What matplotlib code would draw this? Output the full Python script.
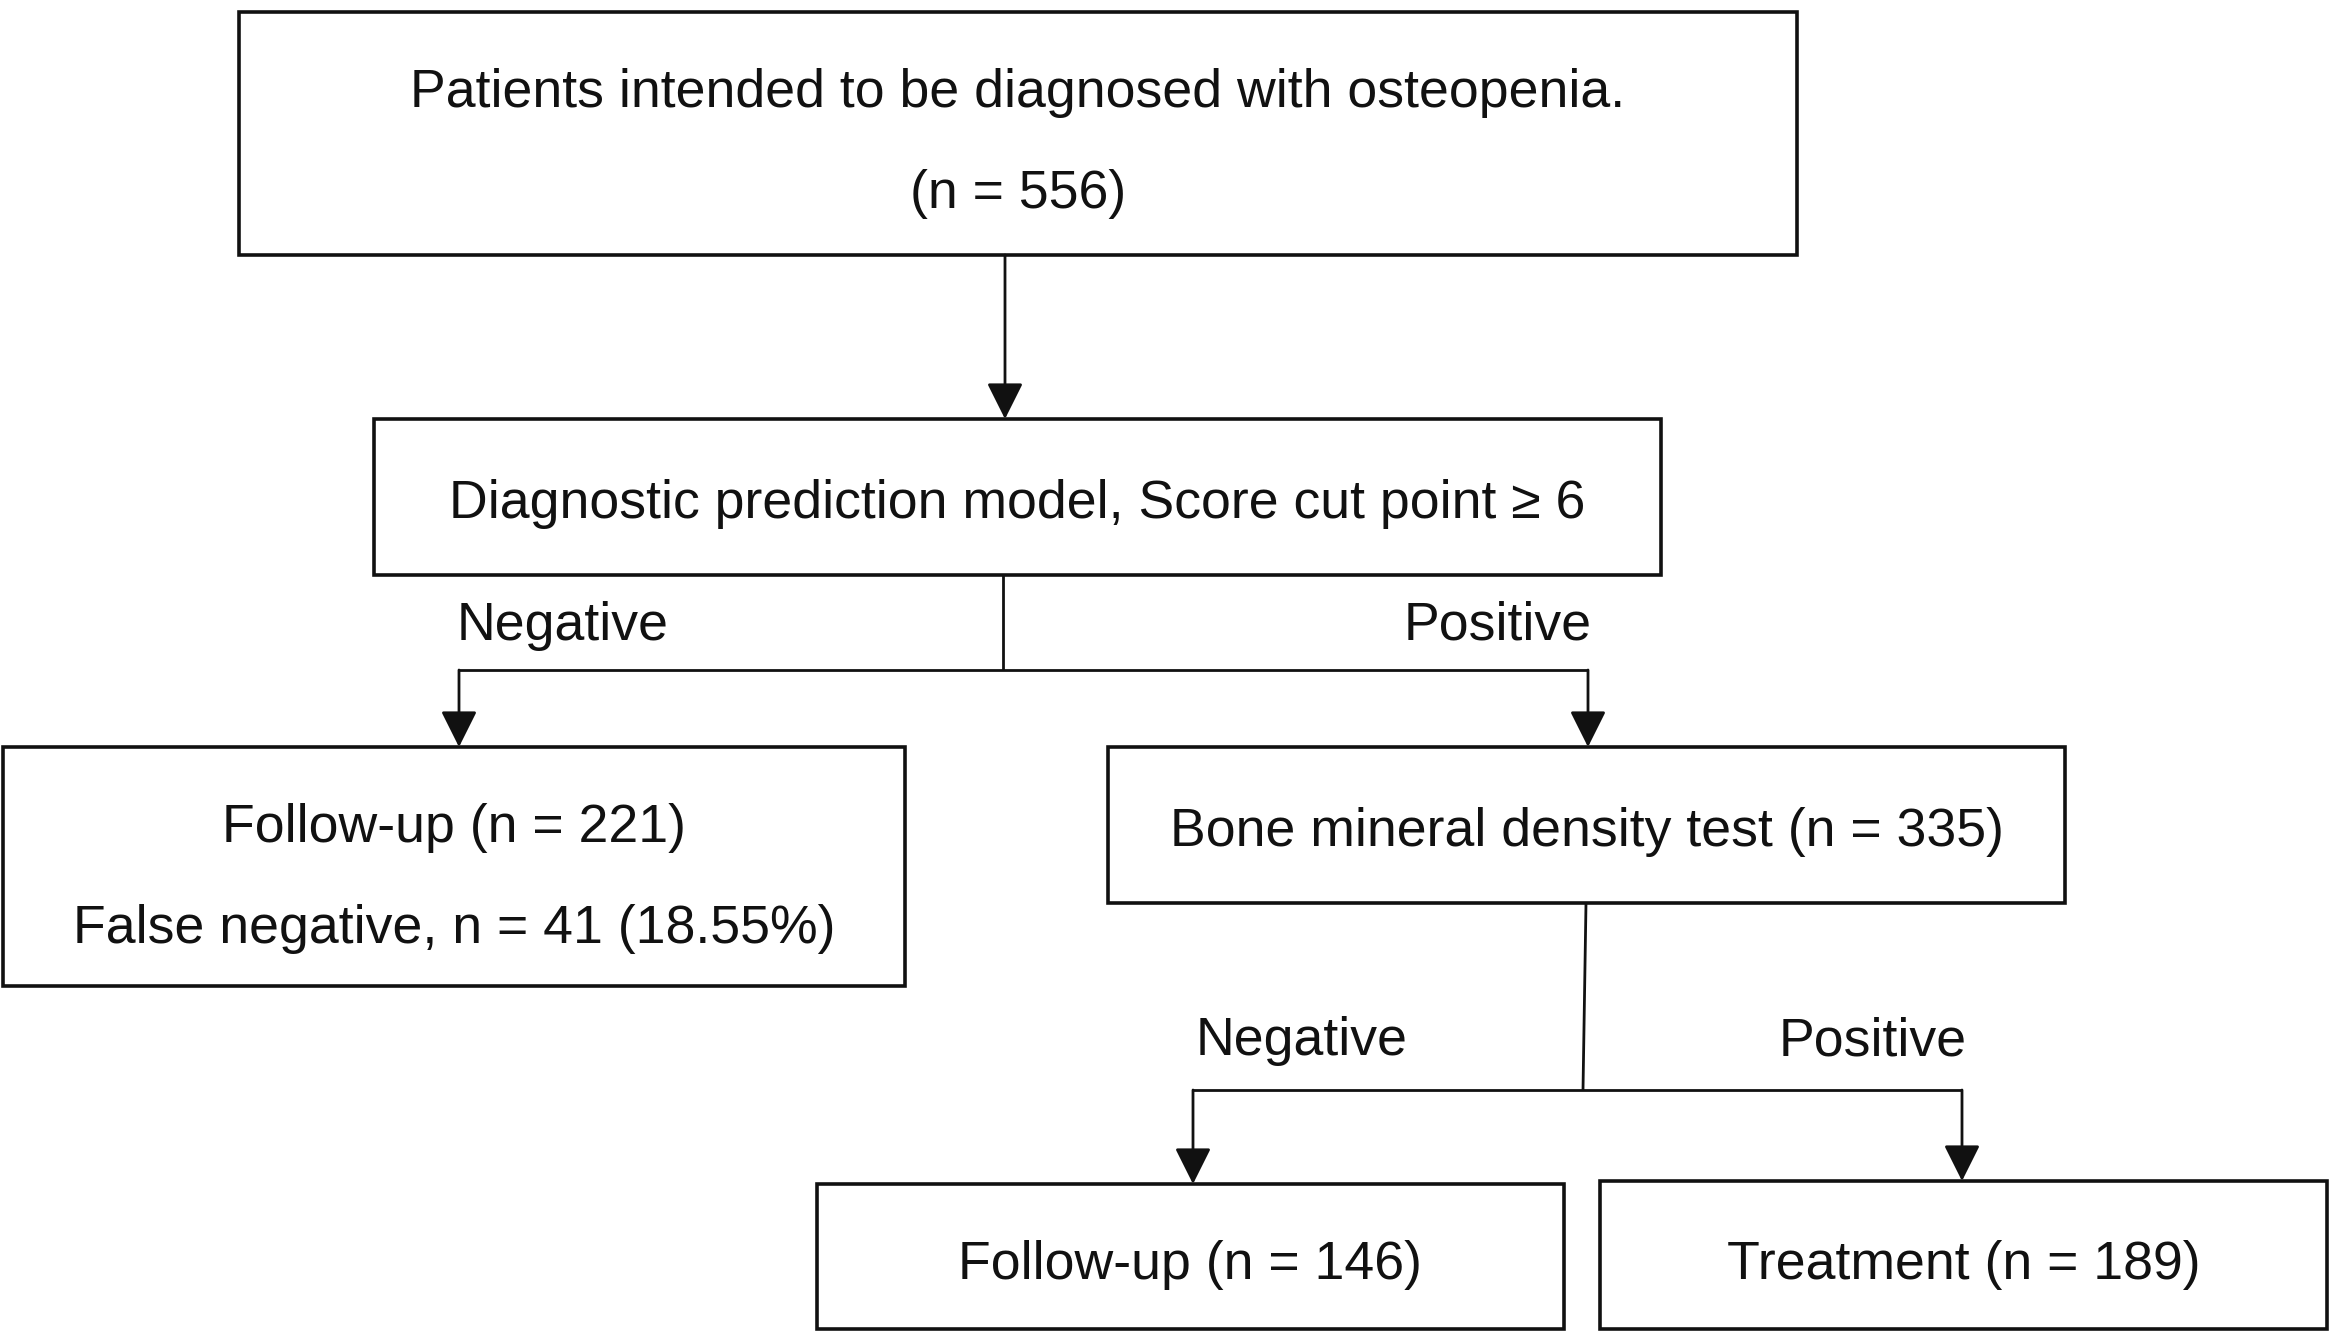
import matplotlib
matplotlib.use("Agg")
import matplotlib.pyplot as plt
from matplotlib.patches import Rectangle

W, H = 2329, 1332

# box texts
box_texts = [
    ["Patients intended to be diagnosed with osteopenia.", "(n = 556)"],
    ["Diagnostic prediction model, Score cut point \u2265 6"],
    ["Follow-up (n = 221)", "False negative, n = 41 (18.55%)"],
    ["Bone mineral density test (n = 335)"],
    ["Follow-up (n = 146)"],
    ["Treatment (n = 189)"],
]
# box geometry in pixels: x0, y0, x1, y1 (y from top)
boxes = [
    (239, 12, 1797, 255),
    (374, 419, 1661, 575),
    (3, 747, 905, 986),
    (1108, 747, 2065, 903),
    (817, 1184, 1564, 1329),
    (1600, 1181, 2327, 1329),
]
line_ys = [
    [93, 194],
    [504],
    [828, 929],
    [832],
    [1265],
    [1265],
]

fig = plt.figure(figsize=(W / 100, H / 100), dpi=100)
ax = fig.add_axes([0, 0, 1, 1])
ax.set_xlim(0, W)
ax.set_ylim(H, 0)
ax.axis("off")

fs = 38.6
font = "Liberation Sans"
ink = "#111111"

for (x0, y0, x1, y1), texts, ys in zip(boxes, box_texts, line_ys):
    ax.add_patch(Rectangle((x0, y0), x1 - x0, y1 - y0, fill=False,
                           edgecolor=ink, linewidth=2.6))
    cx = (x0 + x1) / 2
    for t, y in zip(texts, ys):
        ax.text(cx, y, t, ha="center", va="center", fontsize=fs,
                family=font, color=ink)


def line(xs, ys):
    ax.plot(xs, ys, color=ink, linewidth=2.0, solid_capstyle="butt")


def arrow(x, y0, y1):
    ax.annotate("", xy=(x, y1), xytext=(x, y0),
                arrowprops=dict(arrowstyle="-|>", color=ink, lw=2.0,
                                mutation_scale=56, shrinkA=0, shrinkB=0))


# top -> model
arrow(1005, 255, 419)

# model -> split
line([1003, 1003], [575, 670])
line([459, 1588], [670, 670])
arrow(459, 670, 747)
arrow(1588, 670, 747)
ax.text(457, 626, "Negative", ha="left", va="center", fontsize=fs, family=font, color=ink)
ax.text(1592, 626, "Positive", ha="right", va="center", fontsize=fs, family=font, color=ink)

# BMD -> split
line([1586, 1583], [903, 1090])
line([1193, 1962], [1090, 1090])
arrow(1193, 1090, 1184)
arrow(1962, 1090, 1181)
ax.text(1196, 1041, "Negative", ha="left", va="center", fontsize=fs, family=font, color=ink)
ax.text(1967, 1041, "Positive", ha="right", va="center", fontsize=fs, family=font, color=ink)

fig.savefig("out.png", dpi=100, facecolor="white")
